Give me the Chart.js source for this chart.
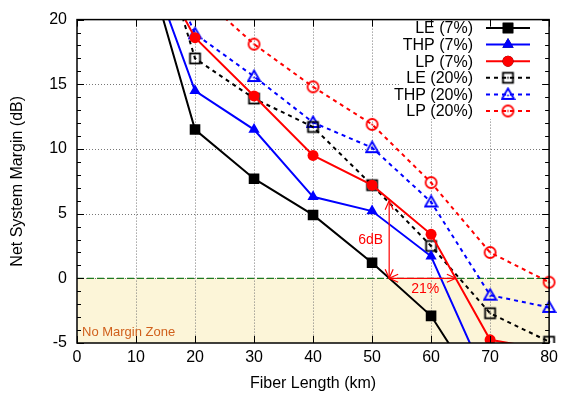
<!DOCTYPE html>
<html>
<head>
<meta charset="utf-8">
<script src="https://cdn.jsdelivr.net/npm/chart.js@4/dist/chart.umd.min.js"></script>
<style>
  html, body { margin: 0; padding: 0; background: #fff; }
  #wrap { width: 563px; height: 398px; }
</style>
</head>
<body>
<div id="wrap"><canvas id="myChart" width="563" height="398"></canvas></div>
<script>
// fiber lengths (km)
let lengths = [10, 20, 30, 40, 50, 60, 70, 80];

// net system margin (dB) for each series
let le7 = [27.3, 11.5, 7.7, 4.9, 1.2, -2.9, -10, null];
let thp7 = [27, 14.5, 11.5, 6.3, 5.2, 1.7, -8.5, null];
let lp7 = [27, 18.6, 14.1, 9.5, 7.2, 3.4, -4.75, -5.55];
let le20 = [32, 17, 13.9, 11.7, 7.2, 2.5, -2.7, -4.9];
let thp20 = [29.5, 18.9, 15.6, 12.05, 10.1, 5.9, -1.3, -2.25];
let lp20 = [null, 22.2, 18.1, 14.8, 11.9, 7.4, 2.0, -0.3];

let seriesNames = ["LE (7%)", "THP (7%)", "LP (7%)", "LE (20%)", "THP (20%)", "LP (20%)"];

// annotation values
let arrowX = 52.9;
let arrowTop = 6;
let arrowEnd = 64.2;

let xTicks = [0, 10, 20, 30, 40, 50, 60, 70, 80];
let yTicks = [-5, 0, 5, 10, 15, 20];

const FONT = "'Liberation Sans', Arial, Helvetica, sans-serif";
Chart.defaults.font.family = FONT;
Chart.defaults.font.size = 16;
Chart.defaults.color = "#000";

// hollow markers with a centre dot, like gnuplot
function hollowMarker(shape, color) {
  let c = document.createElement("canvas");
  c.width = 15;
  c.height = 15;
  let g = c.getContext("2d");
  g.strokeStyle = color;
  g.fillStyle = color;
  g.lineWidth = 1.8;
  if (shape === "rect") {
    g.strokeRect(2.5, 2.5, 10, 10);
  } else if (shape === "triangle") {
    g.beginPath();
    g.moveTo(7.5, 1.5);
    g.lineTo(13.5, 12);
    g.lineTo(1.5, 12);
    g.closePath();
    g.stroke();
  } else {
    g.beginPath();
    g.arc(7.5, 7.5, 5.5, 0, Math.PI * 2);
    g.stroke();
  }
  g.beginPath();
  g.arc(7.5, shape === "triangle" ? 8.5 : 7.5, 1, 0, Math.PI * 2);
  g.fill();
  return c;
}

function toPoints(arr) {
  return lengths.map((x, i) => ({ x, y: arr[i] }));
}

let styles = [
  { data: le7, color: "#000000", point: "rect", radius: 7.5, dash: [] },
  { data: thp7, color: "#0000ff", point: "triangle", radius: 6.5, dash: [] },
  { data: lp7, color: "#ff0000", point: "circle", radius: 5.5, dash: [] },
  { data: le20, color: "#000000", point: hollowMarker("rect", "#000000"), radius: 7, dash: [4, 4] },
  { data: thp20, color: "#0000ff", point: hollowMarker("triangle", "#0000ff"), radius: 7, dash: [4, 4] },
  { data: lp20, color: "#ff0000", point: hollowMarker("circle", "#ff0000"), radius: 7, dash: [4, 4] },
];

let datasets = styles.map((s, i) => ({
  label: seriesNames[i],
  data: toPoints(s.data),
  borderColor: s.color,
  backgroundColor: s.color,
  borderWidth: 2,
  borderDash: s.dash,
  pointStyle: s.point,
  pointRadius: s.radius,
  pointBorderWidth: 0,
  pointBackgroundColor: s.color,
  tension: 0,
  spanGaps: false,
  clip: { left: 0, top: 0, right: 10, bottom: 0 },
}));

let decorations = {
  id: "decorations",
  beforeDraw(chart) {
    let { ctx, chartArea, scales } = chart;
    let y0 = scales.y.getPixelForValue(0);
    let yMin = scales.y.getPixelForValue(scales.y.min);
    ctx.save();
    ctx.fillStyle = "#fcf5d8";
    ctx.fillRect(chartArea.left, y0, chartArea.right - chartArea.left, yMin - y0);
    ctx.restore();
  },
  beforeDatasetsDraw(chart) {
    let { ctx, chartArea, scales } = chart;
    let { left, right, top, bottom } = chartArea;
    let y0 = scales.y.getPixelForValue(0);
    ctx.save();
    // dotted grid
    ctx.strokeStyle = "#777";
    ctx.lineWidth = 1;
    ctx.setLineDash([1, 2]);
    ctx.beginPath();
    xTicks.slice(1, -1).forEach((v) => {
      let px = Math.round(scales.x.getPixelForValue(v)) + 0.5;
      ctx.moveTo(px, top);
      ctx.lineTo(px, bottom);
    });
    yTicks.slice(1, -1).forEach((v) => {
      let py = Math.round(scales.y.getPixelForValue(v)) + 0.5;
      ctx.moveTo(left, py);
      ctx.lineTo(right, py);
    });
    ctx.stroke();
    ctx.setLineDash([]);
    // white box behind the key
    ctx.fillStyle = "#fff";
    ctx.fillRect(400, 19, right - 402, 100);
    // zero margin line
    ctx.strokeStyle = "#1f7a1f";
    ctx.lineWidth = 1.2;
    ctx.setLineDash([7, 3]);
    ctx.beginPath();
    ctx.moveTo(left, y0);
    ctx.lineTo(right, y0);
    ctx.stroke();
    ctx.setLineDash([]);
    ctx.fillStyle = "#d0601c";
    ctx.font = "13px " + FONT;
    ctx.textBaseline = "middle";
    ctx.fillText("No Margin Zone", left + 5, scales.y.getPixelForValue(-4.2));
    ctx.restore();
  },
  afterDatasetsDraw(chart) {
    let { ctx, scales } = chart;
    let x = scales.x, y = scales.y;
    ctx.save();
    ctx.strokeStyle = "#ff0000";
    ctx.fillStyle = "#ff0000";
    ctx.lineWidth = 1.2;

    function arrowHead(px, py, dx, dy) {
      let len = 9, w = 4;
      ctx.beginPath();
      ctx.moveTo(px - dx * len + dy * w, py - dy * len - dx * w);
      ctx.lineTo(px, py);
      ctx.lineTo(px - dx * len - dy * w, py - dy * len + dx * w);
      ctx.stroke();
    }

    let ax = x.getPixelForValue(arrowX);
    let ay0 = y.getPixelForValue(0);
    let ay1 = y.getPixelForValue(arrowTop);
    ctx.beginPath();
    ctx.moveTo(ax, ay0);
    ctx.lineTo(ax, ay1);
    ctx.stroke();
    arrowHead(ax, ay1, 0, -1);
    arrowHead(ax, ay0, 0, 1);

    let bx = x.getPixelForValue(arrowEnd);
    ctx.beginPath();
    ctx.moveTo(ax, ay0);
    ctx.lineTo(bx, ay0);
    ctx.stroke();
    arrowHead(bx, ay0, 1, 0);
    arrowHead(ax, ay0, -1, 0);

    ctx.font = "14px " + FONT;
    ctx.textBaseline = "middle";
    ctx.textAlign = "right";
    ctx.fillText("6dB", ax - 6, y.getPixelForValue(2.95));
    ctx.textAlign = "center";
    ctx.fillText("21%", x.getPixelForValue(59), y.getPixelForValue(-0.8));

    // key
    ctx.font = "16px " + FONT;
    ctx.textAlign = "right";
    styles.forEach((s, i) => {
      let ky = 28 + i * 16.6;
      ctx.fillStyle = "#000";
      ctx.fillText(seriesNames[i], 473, ky + 1);
      ctx.strokeStyle = s.color;
      ctx.lineWidth = 2;
      ctx.setLineDash(s.dash);
      ctx.beginPath();
      ctx.moveTo(486, ky);
      ctx.lineTo(530, ky);
      ctx.stroke();
      ctx.setLineDash([]);
      if (typeof s.point === "string") {
        Chart.helpers.drawPoint(ctx, { pointStyle: s.point, radius: s.radius, borderWidth: 0 }, 508, ky);
        ctx.fillStyle = s.color;
        ctx.fill();
      } else {
        ctx.drawImage(s.point, 508 - 7.5, ky - 7.5);
      }
    });
    ctx.restore();
  },
  afterDraw(chart) {
    let { ctx, chartArea, scales } = chart;
    let { left, right, top, bottom } = chartArea;
    ctx.save();
    ctx.strokeStyle = "#000";
    ctx.lineWidth = 1;
    ctx.beginPath();
    // y ticks, major and minor, both sides
    for (let v = scales.y.min; v <= scales.y.max; v++) {
      let py = Math.round(scales.y.getPixelForValue(v)) + 0.5;
      let len = v % 5 === 0 ? 7 : 4;
      ctx.moveTo(left, py);
      ctx.lineTo(left + len, py);
      ctx.moveTo(right, py);
      ctx.lineTo(right - len, py);
    }
    xTicks.forEach((v) => {
      let px = Math.round(scales.x.getPixelForValue(v)) + 0.5;
      ctx.moveTo(px, bottom);
      ctx.lineTo(px, bottom - 7);
      ctx.moveTo(px, top);
      ctx.lineTo(px, top + 7);
    });
    ctx.stroke();
    ctx.lineWidth = 1.5;
    ctx.strokeRect(left, top, right - left, bottom - top);
    ctx.restore();
  },
};

let ctx = document.getElementById("myChart").getContext("2d");

let myChart = new Chart(ctx, {
  type: "line",
  data: { datasets },
  options: {
    responsive: false,
    animation: false,
    devicePixelRatio: 1,
    layout: { padding: { top: 14, right: 12, left: 0, bottom: 0 } },
    plugins: {
      legend: { display: false },
      tooltip: { enabled: false },
    },
    scales: {
      x: {
        type: "linear",
        min: 0,
        max: 80,
        afterFit: (scale) => { scale.height = 55; },
        afterBuildTicks: (scale) => { scale.ticks = xTicks.map((v) => ({ value: v })); },
        ticks: { padding: 5, font: { size: 16 }, color: "#000" },
        grid: { display: false, drawTicks: false },
        border: { display: false },
        title: { display: true, text: "Fiber Length (km)", font: { size: 16 }, color: "#000", padding: { top: 4, bottom: 5 } },
      },
      y: {
        min: -5,
        max: 20,
        afterFit: (scale) => { scale.width = 77; },
        afterBuildTicks: (scale) => { scale.ticks = yTicks.map((v) => ({ value: v })); },
        ticks: { padding: 10, font: { size: 16 }, color: "#000" },
        grid: { display: false, drawTicks: false },
        border: { display: false },
        title: { display: true, text: "Net System Margin (dB)", font: { size: 16 }, color: "#000", padding: { top: 8, bottom: 0 } },
      },
    },
  },
  plugins: [decorations],
});
</script>
</body>
</html>
